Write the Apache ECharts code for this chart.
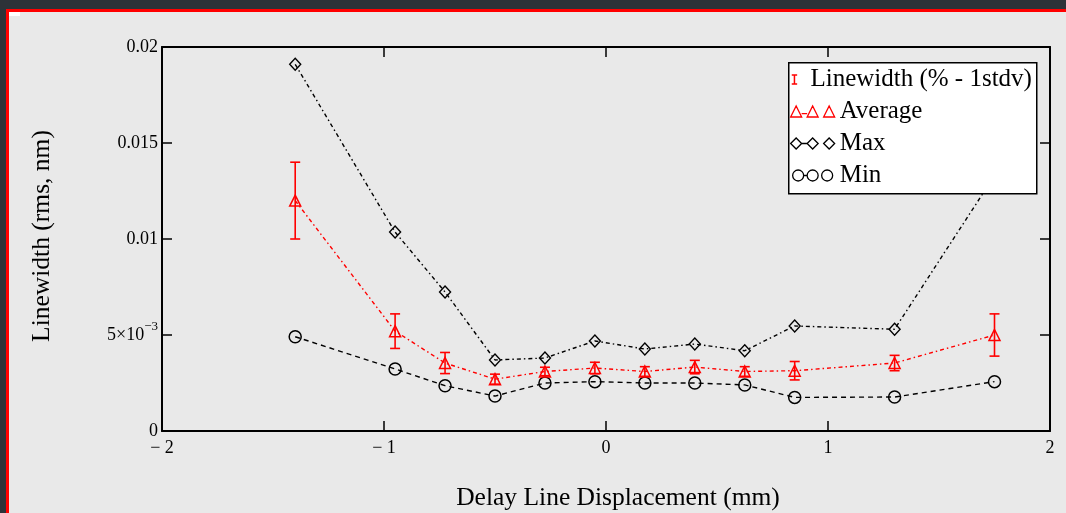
<!DOCTYPE html>
<html>
<head>
<meta charset="utf-8">
<title>Linewidth vs delay line displacement</title>
<script src="https://cdn.jsdelivr.net/npm/echarts/dist/echarts.min.js"></script>
<style>
  html, body { margin: 0; padding: 0; background: #2d3238; overflow: hidden; }
  #frame { position: absolute; left: 6px; top: 9px; width: 1057px; height: 501px;
           border-top: 3px solid #ff0000; border-left: 3px solid #ff0000; background: #e9e9e9; }
  #main { width: 1057px; height: 501px; }
</style>
</head>
<body>
<div id="frame"><div id="main"></div></div>
<script>
// delay line displacement (mm)
var xs   = [-1.4, -0.95, -0.725, -0.5, -0.275, -0.05, 0.175, 0.4, 0.625, 0.85, 1.3, 1.75];
// linewidth (rms, nm)
var maxV = [0.0191, 0.01036, 0.00724, 0.0037, 0.0038, 0.00469, 0.00427, 0.00453, 0.00418, 0.00547, 0.0053, 0.0133];
var avgV = [0.0120, 0.0052, 0.00354, 0.0027, 0.0031, 0.00328, 0.0031, 0.00333, 0.0031, 0.00314, 0.00354, 0.0050];
var errV = [0.0020, 0.0009, 0.00055, 0.00026, 0.00022, 0.0003, 0.00025, 0.00035, 0.00025, 0.00048, 0.0004, 0.0011];
var minV = [0.00491, 0.00323, 0.00236, 0.00182, 0.0025, 0.00257, 0.0025, 0.0025, 0.0024, 0.00175, 0.00177, 0.00257];

var xTicks = [-2, -1, 0, 1, 2];
var xTickLabels = ['\u2212 2', '\u2212 1', '0', '1', '2'];
var yTicks = [0, 0.005, 0.01, 0.015, 0.02];
var yTickLabels = ['0', '5\u00d710{sup|\u22123}', '0.01', '0.015', '0.02'];

var serif = "'Liberation Serif', 'Times New Roman', serif";

function pairs(vals) {
    return xs.map(function (x, i) { return [x, vals[i]]; });
}
var errData = xs.map(function (x, i) { return [x, avgV[i] - errV[i], avgV[i] + errV[i]]; });

function tickText(ticks, labels, v) {
    for (var i = 0; i < ticks.length; i++) {
        if (Math.abs(ticks[i] - v) < 1e-9) return labels[i];
    }
    return '';
}

var iconBar = 'path://M0,0L6,0M3,0L3,10M0,10L6,10';
var iconTri = 'path://M0,10L5,0L10,10ZM10,7L15,7M15,10L20,0L25,10ZM30,10L35,0L40,10Z';
var iconDia = 'path://M0,5L5,0L10,5L5,10ZM10,5L15,5M15,5L20,0L25,5L20,10ZM30,5L35,0L40,5L35,10Z';
var iconCir = 'path://M0,5.5A5.5,5.5,0,1,1,11,5.5A5.5,5.5,0,1,1,0,5.5ZM11,5.5L14.5,5.5M14.5,5.5A5.5,5.5,0,1,1,25.5,5.5A5.5,5.5,0,1,1,14.5,5.5ZM29,5.5A5.5,5.5,0,1,1,40,5.5A5.5,5.5,0,1,1,29,5.5Z';

var myChart = echarts.init(document.getElementById('main'));

var frameAxis = {
    onZero: false,
    lineStyle: { color: '#000', width: 2 }
};
var tickStyle = { show: true, inside: true, length: 10, lineStyle: { color: '#000', width: 1.5 } };

option = {
    animation: false,
    backgroundColor: 'transparent',
    grid: { left: 153, top: 35, right: 16, bottom: 82, outerBoundsMode: 'none' },
    xAxis: [{
        type: 'value', min: -2, max: 2, interval: 1, position: 'bottom',
        axisLine: frameAxis, axisTick: tickStyle, splitLine: { show: false },
        axisLabel: {
            margin: 8, color: '#000', fontFamily: serif, fontSize: 18,
            formatter: function (v) { return tickText(xTicks, xTickLabels, v); }
        },
        name: 'Delay Line Displacement (mm)', nameLocation: 'middle', nameGap: 54, nameMoveOverlap: false,
        nameTextStyle: { color: '#000', fontFamily: serif, fontSize: 25.5, padding: [0, 0, 0, 24] }
    }, {
        type: 'value', min: -2, max: 2, interval: 1, position: 'top',
        axisLine: frameAxis, axisTick: tickStyle, splitLine: { show: false }, axisLabel: { show: false }
    }],
    yAxis: [{
        type: 'value', min: 0, max: 0.02, interval: 0.005, position: 'left',
        axisLine: frameAxis, axisTick: tickStyle, splitLine: { show: false },
        axisLabel: {
            margin: 4, color: '#000', fontFamily: serif, fontSize: 18,
            formatter: function (v) { return tickText(yTicks, yTickLabels, v); },
            rich: { sup: { fontFamily: serif, fontSize: 13, color: '#000', padding: [0, 0, 16, 0] } }
        },
        name: 'Linewidth (rms, nm)', nameLocation: 'middle', nameGap: 107, nameMoveOverlap: false,
        nameTextStyle: { color: '#000', fontFamily: serif, fontSize: 25.5, padding: [0, 0, 0, 6] }
    }, {
        type: 'value', min: 0, max: 0.02, interval: 0.005, position: 'right',
        axisLine: frameAxis, axisTick: tickStyle, splitLine: { show: false }, axisLabel: { show: false }
    }],
    legend: [{
        data: [{ name: 'Linewidth (% - 1stdv)', icon: iconBar,
                 itemStyle: { color: 'transparent', borderColor: '#ff0000', borderWidth: 1.5 } }],
        left: 782, top: 55, padding: 0, itemWidth: 22, itemHeight: 9,
        selectedMode: false, z: 20,
        textStyle: { color: '#000', fontFamily: serif, fontSize: 25 }
    }, {
        data: [
            { name: 'Average', icon: iconTri, itemStyle: { color: 'transparent', borderColor: '#ff0000', borderWidth: 1.3 } },
            { name: 'Max', icon: iconDia, itemStyle: { color: 'transparent', borderColor: '#000', borderWidth: 1.3 } },
            { name: 'Min', icon: iconCir, itemStyle: { color: 'transparent', borderColor: '#000', borderWidth: 1.3 } }
        ],
        orient: 'vertical', left: 781, top: 87, padding: 0, itemGap: 7, itemWidth: 44, itemHeight: 11,
        selectedMode: false, z: 20,
        textStyle: { color: '#000', fontFamily: serif, fontSize: 25 }
    }],
    graphic: [
        { type: 'rect', left: 779, top: 50, z: 10, silent: true,
          shape: { width: 248, height: 131 },
          style: { fill: '#fff', stroke: '#000', lineWidth: 1.5 } },
        { type: 'rect', left: 0, top: 0, z: 10, silent: true,
          shape: { width: 11, height: 4 }, style: { fill: '#fff' } }
    ],
    series: [
        {
            name: 'Max', type: 'line', data: pairs(maxV), z: 3, xAxisIndex: 0, yAxisIndex: 0,
            symbol: 'diamond', symbolSize: [11, 12],
            itemStyle: { color: 'transparent', borderColor: '#000', borderWidth: 1.4 },
            lineStyle: { color: '#000', width: 1.4, type: [4, 3, 1.5, 3] }
        },
        {
            name: 'Min', type: 'line', data: pairs(minV), z: 3, xAxisIndex: 0, yAxisIndex: 0,
            symbol: 'circle', symbolSize: 12,
            itemStyle: { color: 'transparent', borderColor: '#000', borderWidth: 1.5 },
            lineStyle: { color: '#000', width: 1.4, type: [5, 4] }
        },
        {
            name: 'Average', type: 'line', data: pairs(avgV), z: 3, xAxisIndex: 0, yAxisIndex: 0,
            symbol: 'triangle', symbolSize: [11, 11],
            itemStyle: { color: 'transparent', borderColor: '#ff0000', borderWidth: 1.5 },
            lineStyle: { color: '#ff0000', width: 1.4, type: [4, 3, 1.5, 3] }
        },
        {
            name: 'Linewidth (% - 1stdv)', type: 'custom', data: errData, z: 4, xAxisIndex: 0, yAxisIndex: 0,
            encode: { x: 0, y: [1, 2] },
            renderItem: function (params, api) {
                var x = api.value(0);
                var top = api.coord([x, api.value(2)]);
                var bot = api.coord([x, api.value(1)]);
                var hw = 5;
                var st = { stroke: '#ff0000', lineWidth: 1.6 };
                return {
                    type: 'group',
                    children: [
                        { type: 'line', shape: { x1: top[0], y1: top[1], x2: bot[0], y2: bot[1] }, style: st },
                        { type: 'line', shape: { x1: top[0] - hw, y1: top[1], x2: top[0] + hw, y2: top[1] }, style: st },
                        { type: 'line', shape: { x1: bot[0] - hw, y1: bot[1], x2: bot[0] + hw, y2: bot[1] }, style: st }
                    ]
                };
            }
        }
    ]
};

if (option && typeof option === "object") {
    myChart.setOption(option, true);
}
</script>
</body>
</html>
